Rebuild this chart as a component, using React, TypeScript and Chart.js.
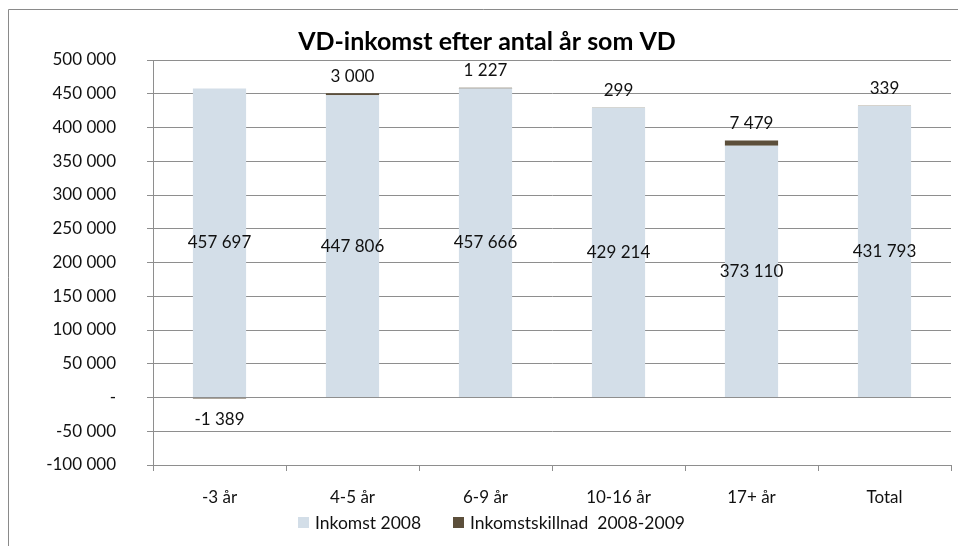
import React, { useEffect, useRef } from "react";
import { Chart, registerables } from "chart.js";

Chart.register(...registerables);

const categories = ["-3 år", "4-5 år", "6-9 år", "10-16 år", "17+ år", "Total"];
const income2008 = [457697, 447806, 457666, 429214, 373110, 431793];
const incomeDiff = [-1389, 3000, 1227, 299, 7479, 339];
const seriesNames = ["Inkomst 2008", "Inkomstskillnad  2008-2009"];
const chartTitle = "VD-inkomst efter antal år som VD";
const yMin = -100000;
const yMax = 500000;
const yStep = 50000;

const FONT = "Lato";
const LIGHT = "#D3DEE8";
const DARK = "#5C4F3B";
const GRID = "#8E8E8E";
const TEXT = "#111111";

function fmt(v: number): string {
  const s = Math.abs(Math.round(v)).toString().replace(/\B(?=(\d{3})+(?!\d))/g, " ");
  return (v < 0 ? "-" : "") + s;
}

const decorPlugin = {
  id: "decor",
  beforeDraw(chart: any) {
    const ctx = chart.ctx;
    ctx.save();
    ctx.fillStyle = "#ffffff";
    ctx.fillRect(0, 0, chart.width, chart.height);
    ctx.strokeStyle = "#8A8A8A";
    ctx.lineWidth = 1;
    ctx.beginPath();
    ctx.moveTo(8.5, chart.height);
    ctx.lineTo(8.5, 9.5);
    ctx.lineTo(chart.width, 9.5);
    ctx.stroke();
    ctx.restore();
  },
  afterDraw(chart: any) {
    const ctx = chart.ctx;
    ctx.save();
    // title
    ctx.fillStyle = "#000";
    ctx.font = `bold 25px ${FONT}`;
    ctx.textAlign = "center";
    ctx.textBaseline = "alphabetic";
    ctx.fillText(chartTitle, 487, 50);
    // legend
    ctx.font = `17.5px ${FONT}`;
    ctx.textAlign = "left";
    const ds = chart.data.datasets;
    const legendX = [298, 453];
    for (let i = 0; i < ds.length; i++) {
      const x = legendX[i];
      ctx.fillStyle = ds[i].backgroundColor;
      ctx.fillRect(x, 517, 11, 11);
      ctx.fillStyle = TEXT;
      ctx.fillText(ds[i].label, x + 17, 529);
    }
    ctx.restore();
  },
  afterDatasetsDraw(chart: any) {
    const ctx = chart.ctx;
    ctx.save();
    ctx.font = `17px ${FONT}`;
    ctx.fillStyle = TEXT;
    ctx.textAlign = "center";
    ctx.textBaseline = "middle";
    const m0 = chart.getDatasetMeta(0);
    const m1 = chart.getDatasetMeta(1);
    chart.data.datasets[0].data.forEach((v: number, j: number) => {
      const el = m0.data[j];
      ctx.fillText(fmt(v), el.x, (el.y + el.base) / 2);
    });
    chart.data.datasets[1].data.forEach((v: number, j: number) => {
      const el = m1.data[j];
      const y = v >= 0 ? Math.min(el.y, el.base) - 17 : Math.max(el.y, el.base) + 21;
      ctx.fillText(fmt(v), el.x, y);
    });
    ctx.restore();
  },
};

export default function App() {
  const ref = useRef<HTMLCanvasElement | null>(null);
  useEffect(() => {
    if (!ref.current) return;
    const chart = new Chart(ref.current, {
      type: "bar",
      data: {
        labels: categories,
        datasets: [
          {
            label: seriesNames[0],
            data: income2008,
            backgroundColor: LIGHT,
            borderWidth: 0,
            barPercentage: 0.4,
            categoryPercentage: 1,
          },
          {
            label: seriesNames[1],
            data: incomeDiff,
            backgroundColor: DARK,
            borderWidth: 0,
            barPercentage: 0.4,
            categoryPercentage: 1,
          },
        ],
      },
      options: {
        responsive: false,
        animation: false,
        devicePixelRatio: 1,
        layout: { padding: { left: 0, right: 7, top: 60, bottom: 0 } },
        plugins: {
          legend: { display: false },
          title: { display: false },
          tooltip: { enabled: false },
        },
        scales: {
          x: {
            stacked: true,
            afterFit: (s: any) => {
              s.height = 81;
            },
            grid: {
              offset: true,
              drawOnChartArea: false,
              drawTicks: true,
              tickLength: 6,
              color: GRID,
            },
            border: { color: GRID, width: 1 },
            ticks: {
              color: TEXT,
              font: { family: FONT, size: 17 },
              padding: 16,
              maxRotation: 0,
              autoSkip: false,
            },
          },
          y: {
            stacked: true,
            min: yMin,
            max: yMax,
            afterFit: (s: any) => {
              s.width = 153;
            },
            grid: {
              color: GRID,
              tickLength: 6,
              drawTicks: true,
            },
            border: { color: GRID, width: 1 },
            ticks: {
              stepSize: yStep,
              color: TEXT,
              font: { family: FONT, size: 17 },
              padding: 31,
              callback: (v: any) => (Number(v) === 0 ? "-" : fmt(Number(v))),
            },
          },
        },
      },
      plugins: [decorPlugin],
    });
    return () => chart.destroy();
  }, []);
  return (
    <div style={{ position: "absolute", left: 0, top: 0, width: 958, height: 546, overflow: "hidden" }}>
      <canvas ref={ref} width={958} height={546} style={{ display: "block" }} />
    </div>
  );
}
